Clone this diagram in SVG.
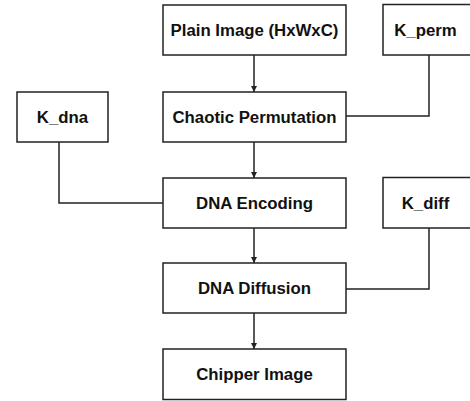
<svg xmlns="http://www.w3.org/2000/svg" width="470" height="401" viewBox="0 0 470 401">
  <defs>
    <marker id="arrow" viewBox="0 0 10 10" refX="10" refY="5" markerWidth="6" markerHeight="8" markerUnits="userSpaceOnUse" orient="auto">
      <path d="M0,0 L10,5 L0,10 z" fill="#222"/>
    </marker>
  </defs>
  <style>
    .box { fill: #fff; stroke: #222; stroke-width: 1.5; }
    .label { font-family: "Liberation Sans", Arial, sans-serif; font-weight: bold; font-size: 16.8px; fill: #111; text-anchor: middle; dominant-baseline: central; }
    .wire { fill: none; stroke: #222; stroke-width: 1.5; }
  </style>
  <rect width="470" height="401" fill="#fff"/>

  <g id="connectors">
    <line class="wire" x1="254" y1="55" x2="254" y2="92" marker-end="url(#arrow)"/>
    <line class="wire" x1="254" y1="142" x2="254" y2="178" marker-end="url(#arrow)"/>
    <line class="wire" x1="254" y1="228" x2="254" y2="263" marker-end="url(#arrow)"/>
    <line class="wire" x1="254" y1="313" x2="254" y2="349" marker-end="url(#arrow)"/>
    <polyline class="wire" points="429,55 429,116 346,116"/>
    <polyline class="wire" points="59,142 59,203 163,203"/>
    <polyline class="wire" points="429,228 429,289 346,289"/>
  </g>

  <g id="plain-image">
    <rect class="box" x="163" y="5" width="183" height="50"/>
    <text class="label" x="254.5" y="30">Plain Image (HxWxC)</text>
  </g>
  <g id="k-perm">
    <rect class="box" x="383" y="4.5" width="92" height="50.5"/>
    <text class="label" x="425.5" y="30">K_perm</text>
  </g>
  <g id="chaotic-permutation">
    <rect class="box" x="163" y="92" width="183" height="50"/>
    <text class="label" x="254.5" y="117">Chaotic Permutation</text>
  </g>
  <g id="k-dna">
    <rect class="box" x="17" y="92" width="91" height="50"/>
    <text class="label" x="62.5" y="117">K_dna</text>
  </g>
  <g id="dna-encoding">
    <rect class="box" x="163" y="178" width="183" height="50"/>
    <text class="label" x="254.5" y="203">DNA Encoding</text>
  </g>
  <g id="k-diff">
    <rect class="box" x="383" y="177.5" width="92" height="50.5"/>
    <text class="label" x="425.5" y="203">K_diff</text>
  </g>
  <g id="dna-diffusion">
    <rect class="box" x="163" y="263" width="183" height="50"/>
    <text class="label" x="254.5" y="288">DNA Diffusion</text>
  </g>
  <g id="chipper-image">
    <rect class="box" x="163" y="349" width="183" height="50.5"/>
    <text class="label" x="254.5" y="374">Chipper Image</text>
  </g>
</svg>
